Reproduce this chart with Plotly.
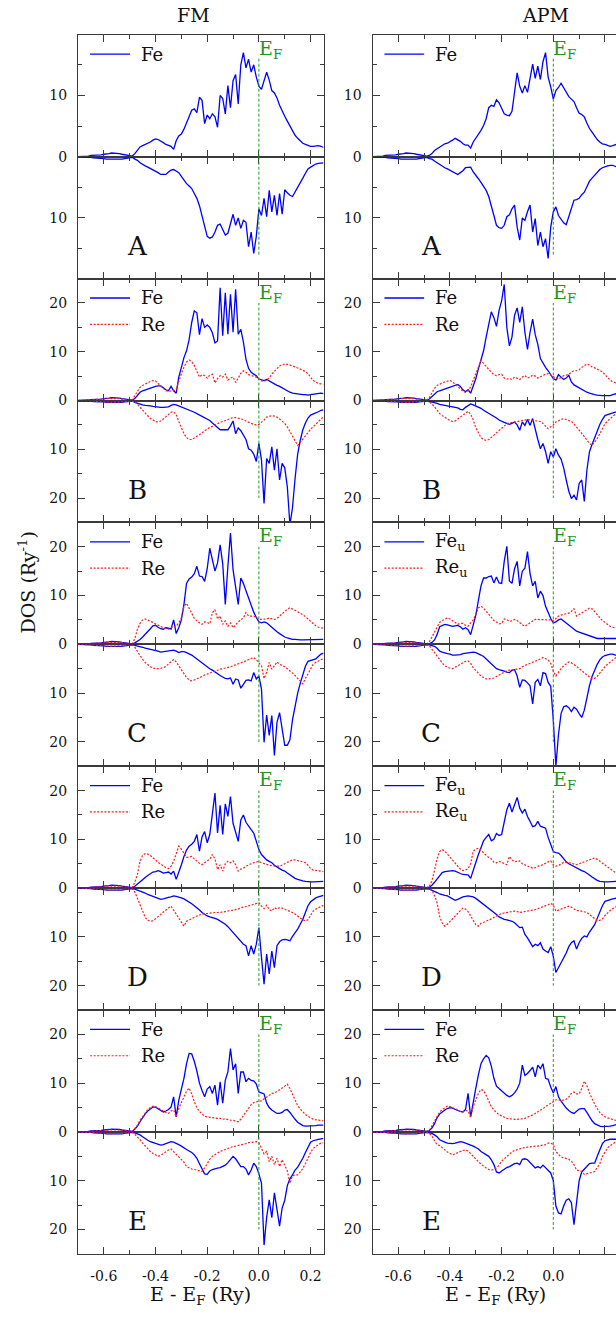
import plotly.graph_objects as go

W, H = 616, 1322

# ---------------------------------------------------------------------------
# Energy grid: every DOS listing starts at E0 and is sampled every DE (Ry).
# The shared low-energy tail covers -0.70 ... -0.49 Ry, the band listings
# below cover -0.48 ... 0.25 Ry (74 values each).
# ---------------------------------------------------------------------------
E0 = -0.70
DE = 0.01

FE_TAIL_UP = [0.0, 0.0, 0.1, 0.1, 0.1, 0.2, 0.2, 0.2, 0.3, 0.3, 0.4,
              0.4, 0.5, 0.6, 0.6, 0.5, 0.5, 0.4, 0.3, 0.2, 0.1, 0.1]
FE_TAIL_DN = [0.0, 0.0, 0.1, 0.1, 0.1, 0.1, 0.2, 0.2, 0.2, 0.3, 0.3,
              0.4, 0.4, 0.5, 0.5, 0.5, 0.4, 0.4, 0.3, 0.2, 0.2, 0.1]
RE_TAIL_UP = [0.0, 0.0, 0.1, 0.1, 0.1, 0.1, 0.2, 0.2, 0.2, 0.3, 0.3,
              0.4, 0.4, 0.5, 0.5, 0.4, 0.4, 0.3, 0.3, 0.2, 0.1, 0.1]
RE_TAIL_DN = [0.0, 0.0, 0.0, 0.1, 0.1, 0.1, 0.1, 0.2, 0.2, 0.2, 0.3,
              0.3, 0.4, 0.4, 0.4, 0.4, 0.3, 0.3, 0.2, 0.2, 0.1, 0.1]

# ----------------------------- panel A -------------------------------------
FM_A_FE_UP = [0.5, 1.0, 1.6, 1.8, 2.0, 2.1, 2.4, 2.7, 2.9, 2.8,
              2.6, 2.3, 2.0, 1.9, 1.7, 1.2, 2.6, 3.4, 3.7, 4.5,
              5.6, 6.5, 7.6, 7.8, 7.2, 9.7, 9.2, 5.4, 6.8, 6.2,
              7.0, 6.5, 4.8, 10.0, 9.5, 7.0, 11.6, 8.0, 12.4, 13.4,
              8.6, 15.0, 17.0, 14.5, 15.9, 13.8, 15.0, 13.0, 11.5, 11.0,
              12.5, 13.8, 12.5, 10.8, 10.4, 9.6, 8.4, 7.4, 6.6, 5.8,
              5.0, 4.2, 3.5, 3.0, 2.6, 2.2, 2.0, 1.8, 1.7, 1.7,
              1.8, 1.8, 1.7, 1.5]
FM_A_FE_DN = [0.4, 0.6, 1.0, 1.3, 1.5, 1.7, 1.9, 2.1, 2.3, 2.6,
              2.9, 2.9, 2.9, 2.5, 2.2, 2.1, 2.3, 2.6, 3.2, 3.9,
              4.4, 4.8, 5.2, 6.0, 6.8, 8.0, 9.8, 11.7, 13.0, 13.3,
              13.1, 12.3, 11.2, 11.0, 11.8, 12.8, 12.5, 11.0, 9.4, 11.2,
              10.0, 11.7, 10.4, 10.7, 14.7, 12.3, 15.8, 13.0, 8.5, 9.6,
              6.8, 9.8, 5.5, 9.0, 6.3, 9.6, 6.0, 9.4, 5.4, 5.9,
              6.3, 6.5, 5.8, 5.0, 4.3, 3.5, 2.7, 2.0, 1.7, 1.4,
              1.2, 1.1, 1.1, 1.0]
APM_A_FE_UP = [0.2, 0.5, 1.0, 1.3, 1.6, 1.9, 2.1, 2.2, 2.4, 2.7,
               3.0, 2.8, 2.5, 2.1, 1.9, 1.9, 1.4, 2.4, 3.0, 3.6,
               4.3, 5.1, 6.2, 8.0, 8.4, 8.2, 9.3, 8.8, 8.0, 7.0,
               6.8, 6.7, 7.4, 10.5, 13.7, 11.5, 10.4, 11.6, 10.5, 12.8,
               15.1, 12.8, 14.8, 12.6, 15.5, 17.0, 13.0, 11.4, 9.4, 10.8,
               11.3, 12.0, 11.3, 10.4, 9.8, 9.4, 9.0, 8.0, 7.1, 6.9,
               6.5, 5.5, 4.6, 4.0, 3.3, 2.8, 2.4, 2.1, 2.0, 1.8,
               1.7, 1.8, 2.0, 2.1]
APM_A_FE_DN = [0.3, 0.4, 0.7, 1.0, 1.3, 1.6, 1.8, 2.0, 2.2, 2.4,
               2.7, 2.9, 2.6, 2.3, 1.8, 1.7, 1.7, 2.5, 3.0, 3.6,
               4.2, 4.8, 5.5, 6.5, 7.9, 9.6, 11.2, 11.6, 11.7, 11.2,
               9.8, 9.5, 8.5, 7.9, 11.5, 13.6, 10.0, 10.4, 9.0, 7.9,
               12.3, 10.1, 14.5, 12.3, 14.7, 13.4, 16.6, 11.5, 9.0, 8.2,
               9.6, 10.2, 10.8, 11.1, 9.8, 8.3, 7.1, 7.0, 6.8, 6.2,
               5.8, 4.9, 4.0, 3.5, 3.0, 2.5, 2.1, 1.8, 1.6, 1.5,
               1.4, 1.4, 1.6, 1.7]

# ----------------------------- panel B -------------------------------------
FM_B_FE_UP = [0.4, 1.0, 1.7, 2.0, 2.2, 2.4, 2.5, 2.7, 2.9, 3.0,
              3.0, 2.6, 2.2, 2.0, 2.9, 2.0, 1.5, 4.8, 7.0, 8.8,
              10.2, 12.5, 16.0, 18.4, 18.0, 13.5, 16.8, 15.0, 15.5, 15.0,
              13.9, 11.8, 12.2, 23.1, 13.3, 22.1, 13.6, 21.8, 14.0, 22.8,
              13.6, 14.6, 12.0, 8.5, 6.6, 5.8, 5.4, 5.1, 4.4, 4.2,
              4.1, 4.3, 4.0, 3.6, 3.3, 3.1, 2.9, 2.6, 2.2, 1.9,
              1.7, 1.5, 1.4, 1.3, 1.2, 1.2, 1.2, 1.1, 1.2, 1.3,
              1.4, 1.5, 1.5, 1.4]
FM_B_RE_UP = [1.0, 2.0, 2.7, 3.1, 3.4, 3.7, 3.9, 4.1, 4.0, 3.5,
              3.0, 2.5, 2.0, 1.9, 1.9, 2.0, 2.3, 4.1, 5.5, 6.8,
              7.9, 8.3, 8.0, 7.2, 6.0, 4.8, 5.3, 5.1, 4.6, 5.2,
              5.4, 3.6, 4.5, 5.1, 4.8, 5.4, 4.2, 4.6, 4.8, 3.7,
              4.6, 5.6, 6.1, 5.8, 5.3, 5.1, 5.0, 4.8, 4.4, 4.0,
              3.9, 4.2, 4.6, 5.4, 6.0, 6.6, 7.1, 7.3, 7.5, 7.4,
              7.3, 7.1, 6.9, 6.7, 6.5, 6.2, 5.9, 5.5, 4.8, 4.1,
              3.8, 3.5, 3.4, 3.3]
FM_B_FE_DN = [0.4, 0.6, 0.8, 0.9, 1.0, 1.0, 1.1, 1.2, 1.3, 1.4,
              1.4, 1.4, 1.4, 1.3, 1.0, 0.8, 0.9, 1.1, 1.3, 1.5,
              1.7, 1.9, 2.1, 2.4, 2.7, 3.0, 3.2, 3.5, 3.8, 4.1,
              4.6, 5.1, 5.6, 6.0, 6.0, 6.0, 6.0, 5.2, 4.2, 6.8,
              5.6, 6.2, 7.0, 8.0, 9.9, 10.2, 11.0, 12.5, 8.8, 12.2,
              21.1, 11.9, 12.9, 9.5, 14.3, 9.9, 16.3, 12.9, 13.8, 17.7,
              25.5, 22.0, 16.0, 11.0, 8.2, 6.0, 4.6, 3.6, 3.0, 2.8,
              2.6, 2.3, 2.0, 1.9]
FM_B_RE_DN = [0.2, 0.8, 1.4, 2.0, 2.7, 3.3, 3.7, 4.0, 4.3, 4.4,
              4.2, 3.8, 3.3, 2.8, 2.4, 2.3, 2.9, 4.3, 5.5, 6.8,
              7.6, 8.0, 8.0, 7.7, 7.4, 7.0, 6.6, 6.2, 5.8, 5.5,
              5.3, 5.0, 4.8, 4.5, 4.3, 4.1, 3.9, 3.7, 3.5, 3.5,
              3.6, 3.7, 3.9, 4.2, 4.5, 4.7, 4.9, 5.0, 4.9, 4.5,
              4.0, 3.4, 3.2, 3.1, 3.2, 3.4, 3.8, 4.2, 4.7, 5.4,
              6.3, 7.3, 8.3, 9.2, 8.6, 7.9, 7.2, 6.5, 5.9, 5.4,
              4.9, 4.3, 3.7, 3.3]
APM_B_FE_UP = [0.3, 0.8, 1.3, 1.8, 2.0, 2.2, 2.4, 2.5, 2.7, 3.0,
               3.2, 3.3, 2.9, 2.2, 1.8, 2.2, 1.5, 3.0, 4.5, 6.5,
               8.3, 10.2, 13.0, 16.0, 18.2, 17.0, 15.2, 18.5, 20.5, 23.8,
               15.0, 11.2, 13.0, 17.5, 19.0, 16.0, 19.2, 14.0, 10.5, 14.0,
               16.7, 13.5, 11.5, 8.6, 7.6, 6.8, 6.1, 5.3, 4.5, 4.2,
               5.3, 4.8, 4.3, 4.6, 5.2, 3.8, 3.2, 2.9, 2.6, 2.2,
               1.9, 1.7, 1.5, 1.3, 1.2, 1.1, 1.0, 1.0, 1.0, 1.0,
               1.0, 1.2, 1.4, 1.5]
APM_B_RE_UP = [0.6, 1.6, 2.5, 3.1, 3.4, 3.6, 3.8, 4.0, 4.1, 3.8,
               3.3, 2.8, 2.2, 1.9, 1.7, 2.0, 2.8, 4.2, 5.8, 7.2,
               8.2, 7.6, 7.0, 6.2, 5.8, 5.3, 5.1, 5.3, 5.4, 4.6,
               4.4, 4.5, 4.3, 4.8, 4.6, 4.3, 4.8, 5.1, 4.6, 4.8,
               5.2, 5.0, 4.6, 4.9, 5.2, 5.4, 5.5, 5.2, 4.8, 4.6,
               4.4, 4.8, 5.1, 5.2, 5.4, 5.8, 6.1, 6.1, 6.3, 6.8,
               7.2, 7.5, 7.3, 6.9, 6.7, 6.4, 6.2, 5.9, 5.3, 4.7,
               4.2, 3.8, 3.6, 3.5]
APM_B_FE_DN = [0.2, 0.3, 0.4, 0.6, 0.8, 0.9, 1.0, 1.1, 1.2, 1.3,
               1.4, 1.5, 1.8, 1.9, 1.4, 1.0, 0.7, 0.9, 1.1, 1.3,
               1.6, 2.0, 2.3, 2.6, 2.9, 3.2, 3.6, 4.0, 4.3, 4.5,
               4.7, 4.9, 4.7, 4.4, 5.0, 6.1, 4.4, 5.1, 3.9, 5.1,
               3.7, 6.2, 8.0, 9.9, 8.8, 10.5, 12.9, 10.5, 11.6, 9.9,
               11.2, 12.0, 13.8, 16.3, 18.6, 20.1, 19.4, 20.4, 17.0, 16.3,
               20.7, 14.3, 10.5, 9.0, 7.6, 6.2, 4.9, 3.9, 3.1, 2.9,
               2.7, 2.6, 2.4, 2.4]
APM_B_RE_DN = [0.3, 0.7, 1.3, 2.0, 2.7, 3.1, 3.5, 3.8, 4.1, 4.3,
               4.2, 3.8, 3.4, 2.9, 2.5, 2.2, 2.8, 4.0, 5.6, 6.6,
               7.6, 8.0, 8.2, 8.0, 7.6, 7.1, 6.6, 6.1, 5.6, 5.2,
               4.8, 4.6, 4.5, 4.4, 4.3, 4.2, 4.1, 4.0, 3.9, 4.0,
               4.1, 4.1, 4.2, 4.3, 4.7, 5.2, 5.8, 5.4, 5.0, 4.4,
               4.1, 3.9, 3.7, 3.9, 4.1, 4.3, 4.8, 5.4, 6.1, 6.8,
               7.4, 8.1, 8.8, 9.2, 8.6, 7.8, 6.8, 5.7, 4.8, 4.2,
               3.7, 3.3, 2.8, 2.6]

# ----------------------------- panel C -------------------------------------
FM_C_FE_UP = [0.3, 0.6, 1.0, 1.5, 2.0, 2.6, 3.2, 3.8, 3.9, 3.5,
              3.2, 3.1, 3.4, 3.3, 3.1, 5.0, 2.2, 3.4, 5.0, 8.2,
              12.5, 13.4, 13.8, 14.5, 16.0, 14.0, 13.9, 12.9, 15.5, 19.7,
              17.3, 15.0, 16.7, 20.4, 16.5, 8.2, 16.0, 22.8, 15.3, 12.2,
              8.2, 13.6, 12.5, 11.0, 9.5, 8.0, 6.6, 5.5, 4.6, 4.4,
              4.6, 4.4, 3.9, 3.5, 3.0, 2.6, 2.2, 1.8, 1.5, 1.3,
              1.1, 1.0, 1.0, 0.9, 0.9, 0.9, 0.9, 0.9, 0.9, 0.9,
              1.0, 1.0, 1.0, 1.0]
FM_C_RE_UP = [1.2, 3.1, 4.3, 5.0, 5.2, 5.0, 4.8, 4.5, 4.2, 3.9,
              3.7, 3.4, 3.2, 3.1, 3.4, 3.7, 3.7, 4.4, 5.4, 7.8,
              8.4, 7.5, 6.4, 5.3, 4.8, 4.4, 4.1, 4.6, 4.5, 4.2,
              6.5, 7.1, 5.2, 5.8, 4.1, 4.8, 3.7, 4.4, 3.4, 4.1,
              4.6, 5.0, 5.4, 6.5, 5.8, 5.8, 5.8, 5.5, 5.1, 5.1,
              5.1, 5.2, 5.4, 5.3, 5.1, 5.3, 5.8, 6.3, 6.8, 7.2,
              7.5, 7.3, 7.0, 6.7, 6.4, 6.1, 5.7, 5.2, 4.7, 4.3,
              3.8, 3.5, 3.4, 3.3]
FM_C_FE_DN = [0.2, 0.3, 0.4, 0.6, 0.8, 0.9, 1.0, 1.1, 1.2, 1.4,
              1.6, 1.5, 1.4, 1.3, 1.2, 1.2, 1.4, 1.7, 1.5, 1.5,
              1.7, 1.9, 2.2, 2.6, 3.0, 3.5, 3.9, 4.3, 4.6, 5.0,
              5.3, 5.7, 6.0, 6.4, 6.7, 7.0, 7.1, 6.9, 8.2, 7.1,
              7.3, 9.0, 8.2, 7.4, 7.3, 7.5, 5.8, 7.1, 6.5, 9.2,
              20.1, 14.5, 18.7, 14.6, 22.8, 16.0, 14.0, 17.0, 20.7, 20.7,
              19.6, 15.5, 12.5, 10.0, 8.0, 6.2, 4.5, 3.5, 3.3, 3.2,
              3.0, 2.5, 2.0, 1.8]
FM_C_RE_DN = [0.6, 1.5, 2.4, 3.1, 3.7, 4.2, 4.6, 4.9, 5.0, 5.0,
              4.9, 4.8, 4.5, 4.0, 3.6, 3.1, 3.6, 4.4, 5.2, 6.1,
              6.8, 7.3, 7.5, 7.3, 7.1, 6.9, 6.6, 6.3, 6.1, 5.8,
              5.6, 5.4, 5.2, 5.1, 5.0, 4.9, 4.8, 4.6, 4.4, 4.2,
              4.0, 3.9, 3.7, 3.4, 3.1, 2.9, 2.7, 3.2, 3.7, 4.4,
              7.0, 5.8, 3.7, 5.1, 4.4, 3.6, 4.1, 4.3, 4.6, 5.0,
              5.4, 5.9, 6.4, 7.0, 7.7, 8.1, 7.0, 6.0, 5.0, 4.1,
              3.7, 3.4, 3.1, 2.9]
APM_C_FE_UP = [0.1, 0.4, 0.9, 2.0, 3.6, 3.9, 4.1, 4.0, 3.9, 3.7,
               3.8, 3.9, 3.6, 3.1, 3.4, 3.0, 2.0, 4.1, 6.0, 9.0,
               12.0, 13.6, 13.6, 13.9, 14.0, 12.6, 13.8, 12.6, 12.5, 17.0,
               20.1, 13.0, 12.5, 15.5, 17.0, 12.0, 15.0, 15.6, 19.0, 14.5,
               12.0, 12.9, 9.5, 10.9, 10.0, 7.8, 6.5, 5.3, 4.4, 4.6,
               5.0, 5.2, 4.8, 4.4, 3.9, 3.5, 3.1, 2.7, 2.5, 2.3,
               2.1, 1.9, 1.7, 1.5, 1.3, 1.2, 1.2, 1.2, 1.2, 1.2,
               1.2, 1.2, 1.2, 1.2]
APM_C_RE_UP = [0.5, 1.5, 2.6, 3.8, 4.5, 4.9, 5.2, 5.4, 5.2, 4.8,
               4.4, 4.1, 4.3, 4.3, 3.9, 3.7, 4.4, 5.0, 6.2, 7.5,
               7.8, 7.4, 6.8, 6.1, 5.5, 4.9, 4.6, 4.2, 4.3, 5.2,
               5.1, 4.7, 4.8, 5.1, 4.9, 4.4, 4.0, 3.7, 4.0, 4.4,
               4.8, 5.1, 5.1, 5.1, 5.0, 5.0, 5.0, 5.0, 4.8, 5.3,
               5.8, 6.0, 6.1, 6.2, 6.4, 6.8, 7.3, 5.8, 6.1, 6.5,
               6.8, 7.0, 7.4, 7.3, 6.7, 6.0, 5.4, 4.9, 4.5, 4.1,
               3.7, 3.5, 3.4, 3.3]
APM_C_FE_DN = [0.1, 0.2, 0.4, 0.8, 1.4, 1.6, 1.8, 1.9, 2.0, 2.2,
               2.2, 2.2, 2.1, 1.9, 1.8, 1.7, 1.6, 1.6, 1.7, 1.9,
               2.2, 2.5, 3.0, 3.4, 3.9, 4.4, 5.0, 5.2, 5.3, 5.5,
               5.7, 5.8, 5.3, 5.2, 6.5, 8.8, 7.3, 7.4, 7.9, 8.5,
               12.2, 7.8, 7.2, 8.5, 5.8, 6.0, 7.8, 8.6, 15.6, 25.0,
               18.5, 14.2, 12.8, 12.6, 13.0, 13.8, 12.9, 13.3, 14.2, 15.0,
               13.5, 10.8, 8.5, 6.6, 5.2, 4.1, 3.2, 2.6, 2.3, 2.1,
               2.0, 2.0, 2.2, 2.2]
APM_C_RE_DN = [0.3, 1.0, 1.8, 2.6, 3.1, 3.8, 4.4, 4.7, 4.9, 5.0,
               4.7, 4.3, 4.0, 3.7, 3.5, 3.4, 3.9, 4.8, 5.4, 6.0,
               6.5, 6.8, 7.1, 7.1, 7.0, 6.9, 6.6, 6.3, 6.0, 5.7,
               5.4, 5.3, 5.2, 5.1, 5.0, 5.0, 4.6, 4.3, 4.1, 3.9,
               3.7, 3.5, 3.2, 3.0, 2.7, 2.9, 3.2, 3.9, 5.5, 6.5,
               5.7, 5.0, 4.4, 4.0, 3.6, 3.8, 4.1, 4.5, 5.0, 5.4,
               5.8, 6.2, 6.7, 7.1, 7.0, 6.6, 5.9, 5.2, 4.6, 4.1,
               3.6, 3.2, 2.8, 2.6]

# ----------------------------- panel D -------------------------------------
FM_D_FE_UP = [0.4, 0.9, 1.4, 1.8, 2.2, 2.6, 3.0, 3.3, 3.4, 3.6,
              3.4, 3.1, 3.2, 3.3, 2.9, 3.5, 1.8, 3.2, 4.8, 6.5,
              7.8, 8.6, 9.0, 9.6, 11.0, 7.6, 10.5, 11.6, 9.3, 11.0,
              15.4, 19.5, 11.3, 17.0, 11.0, 17.3, 14.7, 18.8, 13.3, 11.6,
              9.6, 14.0, 15.0, 13.5, 12.6, 12.0, 11.3, 9.8, 7.9, 6.9,
              6.3, 5.8, 5.5, 5.2, 4.7, 4.3, 4.0, 3.7, 3.5, 3.1,
              2.7, 2.3, 2.0, 1.8, 1.6, 1.5, 1.4, 1.3, 1.3, 1.3,
              1.3, 1.4, 1.4, 1.4]
FM_D_RE_UP = [1.2, 2.8, 5.5, 6.7, 7.1, 7.0, 6.7, 6.3, 5.8, 5.3,
              4.9, 4.5, 4.2, 4.0, 4.5, 5.5, 7.2, 8.6, 8.0, 7.2,
              6.3, 6.4, 6.5, 6.0, 5.5, 5.1, 4.8, 5.3, 5.6, 5.9,
              6.9, 6.0, 3.8, 4.8, 3.5, 5.0, 5.5, 5.2, 5.6, 4.8,
              3.5, 3.9, 4.1, 4.5, 4.8, 5.0, 5.2, 5.4, 5.5, 5.2,
              5.0, 4.8, 4.7, 4.6, 4.5, 4.5, 4.5, 4.7, 5.0, 5.3,
              5.6, 5.8, 5.8, 5.6, 5.5, 5.4, 5.2, 4.7, 4.0, 3.7,
              3.6, 3.5, 3.5, 3.4]
FM_D_FE_DN = [0.2, 0.4, 0.5, 0.8, 1.0, 1.3, 1.5, 1.6, 1.8, 2.0,
              2.3, 2.2, 2.0, 1.9, 1.8, 1.6, 1.7, 1.8, 2.0, 2.2,
              2.5, 2.8, 3.2, 3.6, 4.0, 4.5, 5.0, 5.4, 5.7, 5.9,
              6.0, 6.2, 6.4, 6.7, 7.0, 7.4, 7.9, 8.5, 9.2, 9.8,
              10.3, 10.8, 11.5, 11.8, 13.9, 11.8, 13.5, 11.5, 8.1, 14.2,
              19.7, 13.5, 17.6, 12.9, 16.3, 11.8, 11.0, 10.6, 10.5, 10.6,
              10.8, 9.9, 9.2, 8.4, 7.4, 6.4, 5.0, 3.6, 2.8, 2.3,
              2.0, 1.8, 1.6, 1.5]
FM_D_RE_DN = [0.8, 2.2, 3.6, 5.0, 6.0, 6.6, 6.8, 6.7, 6.3, 5.9,
              5.4, 4.9, 4.5, 4.1, 3.7, 4.5, 5.4, 6.2, 6.9, 7.8,
              6.8, 6.5, 6.3, 6.0, 5.7, 5.5, 5.3, 5.2, 5.2, 5.1,
              5.0, 5.0, 5.0, 5.0, 4.9, 4.8, 4.7, 4.7, 4.6, 4.5,
              4.3, 4.0, 3.9, 3.8, 3.7, 3.5, 3.3, 3.1, 3.0, 3.7,
              4.2, 3.5, 4.4, 4.7, 4.0, 4.3, 4.0, 4.1, 4.3, 4.5,
              4.7, 5.0, 5.3, 5.7, 6.1, 6.5, 6.7, 6.5, 5.6, 4.7,
              4.3, 4.0, 3.7, 3.5]
APM_D_FE_UP = [0.2, 0.6, 1.2, 1.9, 2.5, 3.2, 3.4, 3.5, 3.5, 3.6,
               3.5, 3.2, 3.0, 2.8, 2.8, 2.7, 2.0, 3.8, 5.3, 6.9,
               8.3, 9.7, 10.4, 11.0, 9.7, 10.0, 11.2, 10.8, 11.0, 13.8,
               16.1, 17.4, 15.6, 17.1, 18.6, 16.4, 15.4, 16.2, 14.7, 13.7,
               12.6, 12.8, 13.7, 12.7, 12.5, 12.3, 10.4, 8.8, 7.5, 7.3,
               7.2, 6.7, 6.0, 5.4, 5.0, 4.7, 4.4, 4.1, 3.9, 3.6,
               3.4, 3.1, 2.7, 2.3, 1.9, 1.6, 1.4, 1.3, 1.3, 1.3,
               1.3, 1.3, 1.4, 1.4]
APM_D_RE_UP = [0.3, 1.5, 3.6, 6.0, 7.5, 7.9, 7.6, 7.0, 6.4, 5.6,
               5.0, 4.4, 3.9, 3.6, 3.7, 4.0, 5.0, 7.6, 8.0, 8.2,
               7.8, 7.2, 6.7, 6.3, 6.0, 5.3, 5.2, 5.5, 5.3, 5.0,
               4.8, 6.5, 5.8, 5.4, 5.5, 5.6, 5.0, 4.8, 4.5, 4.4,
               4.1, 4.2, 4.5, 4.6, 4.8, 5.1, 5.4, 5.6, 4.8, 4.5,
               4.7, 4.9, 5.3, 5.3, 5.2, 5.1, 4.9, 4.8, 5.0, 5.2,
               5.4, 5.6, 5.9, 6.1, 6.2, 5.9, 5.5, 5.1, 4.7, 4.3,
               3.9, 3.6, 3.2, 3.0]
APM_D_FE_DN = [0.2, 0.4, 0.6, 0.9, 1.2, 1.4, 1.5, 1.6, 1.9, 2.2,
               2.5, 2.3, 2.0, 1.8, 1.7, 1.6, 1.7, 1.8, 2.1, 2.5,
               2.9, 3.3, 3.8, 4.2, 4.6, 5.0, 5.4, 5.9, 6.2, 6.4,
               6.5, 6.6, 6.8, 7.1, 7.6, 8.1, 8.0, 9.5, 10.2, 11.0,
               12.0, 11.5, 11.8, 11.2, 12.5, 12.9, 13.2, 12.0, 14.0, 17.3,
               16.3, 15.6, 14.6, 13.3, 12.0, 11.2, 10.8, 12.5, 11.2, 10.3,
               9.8, 10.0, 9.0, 8.3, 7.5, 6.2, 4.8, 3.6, 2.7, 2.5,
               2.3, 2.2, 2.1, 2.0]
APM_D_RE_DN = [0.2, 0.4, 1.5, 3.0, 5.8, 7.2, 7.8, 7.4, 6.8, 6.2,
               5.7, 5.1, 4.6, 4.1, 4.3, 4.8, 5.7, 6.5, 7.5, 7.8,
               7.2, 7.0, 6.8, 6.5, 6.3, 6.0, 5.7, 5.4, 5.2, 5.1,
               5.0, 4.9, 4.8, 4.7, 4.8, 5.0, 4.9, 4.8, 4.7, 4.7,
               4.6, 4.4, 4.2, 4.0, 3.9, 3.7, 3.4, 3.1, 3.5, 4.7,
               4.5, 4.3, 4.0, 3.8, 3.7, 3.9, 4.2, 4.6, 4.6, 4.7,
               4.8, 5.0, 5.4, 5.8, 6.3, 6.7, 6.6, 6.3, 5.6, 5.0,
               4.6, 4.2, 3.8, 3.6]

# ----------------------------- panel E -------------------------------------
FM_E_FE_UP = [0.6, 1.2, 2.1, 3.0, 3.7, 4.3, 4.8, 5.1, 5.1, 4.8,
              4.5, 4.1, 4.3, 4.6, 5.1, 7.2, 3.1, 6.5, 8.8, 11.0,
              14.0, 16.1, 16.0, 14.5, 12.5, 10.0, 8.5, 7.2, 8.8, 9.3,
              7.9, 9.6, 5.5, 10.3, 5.9, 10.6, 12.3, 17.1, 12.7, 14.0,
              7.9, 12.3, 12.3, 10.3, 11.0, 10.6, 10.5, 9.8, 8.2, 8.0,
              7.8, 5.9, 5.0, 4.5, 4.1, 3.8, 3.8, 4.0, 4.5, 4.6,
              4.0, 3.2, 2.6, 2.0, 1.6, 1.3, 1.2, 1.2, 1.2, 1.2,
              1.3, 1.4, 1.4, 1.4]
FM_E_RE_UP = [0.7, 1.4, 2.4, 3.2, 4.0, 4.6, 5.0, 5.3, 5.2, 4.9,
              4.6, 4.2, 4.0, 3.8, 4.3, 4.5, 3.1, 4.8, 6.0, 7.3,
              8.4, 9.0, 7.8, 6.2, 5.0, 4.2, 3.6, 3.2, 3.1, 3.0,
              3.0, 2.9, 2.8, 2.8, 2.6, 2.7, 2.5, 2.4, 2.4, 2.2,
              2.1, 2.6, 3.4, 4.2, 5.0, 5.6, 6.0, 6.2, 6.3, 6.4,
              6.8, 7.2, 7.6, 7.9, 8.0, 8.3, 8.6, 9.0, 9.4, 9.8,
              8.9, 7.7, 6.4, 5.4, 4.7, 4.1, 3.6, 3.2, 2.9, 2.6,
              2.5, 2.4, 2.4, 2.3]
FM_E_FE_DN = [0.2, 0.4, 0.6, 1.0, 1.4, 1.7, 2.0, 2.2, 2.4, 2.6,
              2.7, 2.6, 2.4, 2.2, 2.0, 2.1, 2.3, 2.6, 2.9, 3.3,
              3.6, 3.9, 4.2, 4.7, 5.4, 6.5, 7.7, 8.6, 8.7, 8.0,
              7.7, 7.5, 7.4, 7.3, 7.1, 6.8, 6.3, 5.7, 5.0, 5.5,
              6.3, 7.1, 7.1, 7.6, 8.8, 7.8, 6.4, 7.1, 8.6, 10.5,
              23.2, 17.5, 13.9, 17.6, 12.5, 16.0, 19.3, 15.6, 14.0, 11.0,
              9.6, 8.8, 7.8, 7.2, 6.4, 5.4, 4.2, 3.0, 2.1, 1.8,
              1.6, 1.5, 1.4, 1.3]
FM_E_RE_DN = [0.5, 1.0, 1.6, 2.3, 2.9, 3.5, 4.0, 4.4, 4.7, 5.0,
              4.8, 4.4, 4.0, 3.7, 3.5, 4.0, 4.7, 5.2, 5.6, 6.2,
              7.1, 7.4, 7.6, 7.7, 7.8, 8.0, 8.1, 7.4, 6.4, 5.6,
              5.0, 4.6, 4.3, 4.0, 3.8, 3.5, 3.3, 3.2, 3.0, 2.9,
              2.8, 2.7, 2.5, 2.4, 2.2, 2.1, 2.0, 2.0, 2.2, 3.3,
              4.5, 4.0, 6.1, 5.0, 6.7, 5.4, 7.1, 5.7, 6.7, 8.0,
              10.5, 9.0, 8.8, 8.8, 8.2, 7.5, 6.5, 5.2, 4.2, 3.4,
              2.9, 2.6, 2.3, 2.2]
APM_E_FE_UP = [0.3, 0.8, 1.7, 2.9, 3.7, 4.2, 4.5, 4.8, 5.0, 4.9,
               4.6, 4.4, 4.2, 4.1, 4.6, 7.9, 3.1, 6.5, 9.0, 11.7,
               14.0, 15.0, 15.7, 15.2, 13.5, 11.0, 9.4, 8.9, 8.4, 7.9,
               7.5, 7.2, 7.5, 8.0, 8.8, 10.0, 13.7, 11.6, 12.0, 12.6,
               13.3, 11.3, 13.7, 13.0, 14.0, 11.0, 10.8, 9.2, 8.0, 9.3,
               7.2, 6.3, 5.5, 4.9, 4.4, 4.0, 3.8, 4.2, 4.7, 4.8,
               4.8, 4.0, 3.0, 2.3, 1.7, 1.4, 1.2, 1.1, 1.1, 1.1,
               1.2, 1.3, 1.5, 1.6]
APM_E_RE_UP = [0.3, 1.2, 2.2, 3.3, 4.1, 4.6, 5.0, 5.3, 5.2, 5.0,
               4.7, 4.5, 4.2, 4.1, 4.4, 4.3, 3.0, 5.2, 6.6, 7.9,
               8.7, 8.5, 7.5, 6.2, 5.2, 4.5, 4.0, 3.5, 3.3, 3.0,
               2.8, 2.7, 2.6, 2.6, 2.6, 2.6, 2.7, 2.8, 3.0, 3.2,
               3.5, 3.8, 4.1, 4.5, 4.8, 5.2, 5.5, 5.8, 6.2, 6.6,
               6.6, 6.4, 6.5, 6.7, 7.2, 7.9, 8.2, 7.8, 7.8, 8.9,
               10.4, 9.5, 8.0, 6.8, 5.7, 4.8, 4.0, 3.5, 3.1, 2.9,
               2.7, 2.6, 2.4, 2.4]
APM_E_FE_DN = [0.2, 0.3, 0.6, 1.0, 1.6, 1.9, 2.1, 2.3, 2.4, 2.4,
               2.3, 2.2, 2.0, 2.1, 2.3, 2.4, 2.6, 2.9, 3.2, 3.5,
               4.0, 4.3, 4.6, 5.0, 5.7, 6.7, 8.2, 8.4, 8.0, 7.6,
               7.3, 7.1, 6.8, 6.5, 6.4, 6.7, 5.6, 5.5, 5.7, 6.3,
               7.0, 7.4, 7.1, 7.4, 6.8, 7.4, 7.9, 8.4, 10.0, 15.2,
               16.6, 16.8, 15.2, 14.0, 13.7, 14.5, 19.0, 15.0, 10.0, 8.2,
               7.6, 7.1, 6.5, 6.4, 6.4, 5.0, 3.6, 2.4, 1.8, 1.6,
               1.5, 1.5, 1.5, 1.5]
APM_E_RE_DN = [0.3, 0.8, 1.8, 2.6, 2.8, 3.3, 3.8, 4.1, 4.4, 4.7,
               4.5, 4.2, 4.0, 3.8, 3.7, 3.9, 4.5, 5.0, 5.6, 6.1,
               6.6, 7.1, 7.4, 7.7, 7.8, 7.7, 7.4, 6.8, 6.0, 5.5,
               5.0, 4.4, 4.1, 3.8, 3.6, 3.5, 3.3, 3.2, 3.1, 3.0,
               3.0, 2.9, 2.9, 2.8, 2.7, 2.6, 2.3, 2.3, 2.6, 4.0,
               4.6, 5.1, 5.3, 5.5, 5.6, 6.0, 6.7, 7.8, 7.9, 8.1,
               8.7, 8.6, 8.4, 8.3, 8.1, 7.4, 6.5, 5.0, 4.0, 3.3,
               2.8, 2.4, 2.1, 2.0]

# ---------------------------------------------------------------------------
ROWS = ["A", "B", "C", "D", "E"]
COLS = ["FM", "APM"]
Y_MAX = {"A": 19.9, "B": 25, "C": 25, "D": 25, "E": 25}
EF_TOP = {"A": 16, "B": 20, "C": 20, "D": 20, "E": 20}
X_MAJOR = [-0.6, -0.4, -0.2, 0.0, 0.2]
X_MAJOR_TEXT = ["-0.6", "-0.4", "-0.2", "0.0", "0.2"]
X_MINOR = [-0.5, -0.3, -0.1, 0.1]
Y_MAJOR_UP, Y_MAJOR_DN = [0, 10, 20], [10, 20]
Y_MINOR = [5, 15]

SERIES = {
    ("FM", "A"): (FM_A_FE_UP, FM_A_FE_DN, None, None),
    ("APM", "A"): (APM_A_FE_UP, APM_A_FE_DN, None, None),
    ("FM", "B"): (FM_B_FE_UP, FM_B_FE_DN, FM_B_RE_UP, FM_B_RE_DN),
    ("APM", "B"): (APM_B_FE_UP, APM_B_FE_DN, APM_B_RE_UP, APM_B_RE_DN),
    ("FM", "C"): (FM_C_FE_UP, FM_C_FE_DN, FM_C_RE_UP, FM_C_RE_DN),
    ("APM", "C"): (APM_C_FE_UP, APM_C_FE_DN, APM_C_RE_UP, APM_C_RE_DN),
    ("FM", "D"): (FM_D_FE_UP, FM_D_FE_DN, FM_D_RE_UP, FM_D_RE_DN),
    ("APM", "D"): (APM_D_FE_UP, APM_D_FE_DN, APM_D_RE_UP, APM_D_RE_DN),
    ("FM", "E"): (FM_E_FE_UP, FM_E_FE_DN, FM_E_RE_UP, FM_E_RE_DN),
    ("APM", "E"): (APM_E_FE_UP, APM_E_FE_DN, APM_E_RE_UP, APM_E_RE_DN),
}
NAMES_U = ("Fe<sub>u</sub>", "Re<sub>u</sub>")
LEGEND_NAMES = {("APM", "C"): NAMES_U, ("APM", "D"): NAMES_U}

# ------------------------------ geometry (px) ------------------------------
ROW_TOP, ROW_H = 35.0, 245.3
COL_PX = {"FM": (78.0, 323.5), "APM": (372.5, 616.0)}
X_MAX = {"FM": 0.25, "APM": 0.2427}

FONT = "DejaVu Serif"
AX = "#3a3a3a"
BLUE = "#0000ff"
RED = "#ff1a1a"
GREEN = "#22a022"
RED_DOT = "2px,1.6px"
MAJOR_LEN, MINOR_LEN = 7, 4


def energies(n):
    return [round(E0 + DE * i, 2) for i in range(n)]


def full(tail, band):
    assert len(band) == 74, len(band)
    return tail + band


def axis_ids(n):
    s = "" if n == 1 else str(n)
    return "x" + s, "y" + s, "xaxis" + s, "yaxis" + s


fig = go.Figure()
layout = {}
shapes = []
annots = []
n = 0
for r, row in enumerate(ROWS):
    top = ROW_TOP + r * ROW_H
    mid = top + ROW_H / 2
    bot = top + ROW_H
    for col in COLS:
        px0, px1 = COL_PX[col]
        xdom = [px0 / W, min(px1 / W, 1.0)]
        fe_up, fe_dn, re_up, re_dn = SERIES[(col, row)]
        names = LEGEND_NAMES.get((col, row), ("Fe", "Re"))
        for half in ("up", "dn"):
            n += 1
            xa, ya, xkey, ykey = axis_ids(n)
            if half == "up":
                ydom = [1 - mid / H, 1 - top / H]
                yrange = [0, Y_MAX[row]]
                ymajor = Y_MAJOR_UP
                fe = full(FE_TAIL_UP, fe_up)
                re_ = full(RE_TAIL_UP, re_up) if re_up else None
            else:
                ydom = [1 - bot / H, 1 - mid / H]
                yrange = [Y_MAX[row], 0]
                ymajor = Y_MAJOR_DN
                fe = full(FE_TAIL_DN, fe_dn)
                re_ = full(RE_TAIL_DN, re_dn) if re_dn else None
            bottom_row = (row == ROWS[-1] and half == "dn")
            layout[xkey] = dict(
                domain=xdom, anchor=ya, range=[E0, X_MAX[col]],
                tickvals=X_MAJOR, ticktext=X_MAJOR_TEXT, showticklabels=bottom_row,
                ticks="inside", ticklen=MAJOR_LEN, tickwidth=1, tickcolor=AX,
                minor=dict(tickvals=X_MINOR, ticks="inside", ticklen=MINOR_LEN,
                           tickwidth=1, tickcolor=AX, showgrid=False),
                showline=True, linecolor=AX, linewidth=1, mirror="ticks",
                showgrid=False, zeroline=False, ticklabelstandoff=9,
                tickfont=dict(family=FONT, size=14, color="#111"))
            layout[ykey] = dict(
                domain=ydom, anchor=xa, range=yrange,
                tickvals=ymajor, ticktext=[str(v) for v in ymajor],
                ticks="inside", ticklen=MAJOR_LEN, tickwidth=1, tickcolor=AX,
                minor=dict(tickvals=Y_MINOR, ticks="inside", ticklen=MINOR_LEN,
                           tickwidth=1, tickcolor=AX, showgrid=False),
                showline=True, linecolor=AX, linewidth=1,
                mirror="ticks" if col == "FM" else False,
                showgrid=False, zeroline=False, ticklabelstandoff=7,
                tickfont=dict(family=FONT, size=14, color="#111"))

            fig.add_trace(go.Scatter(
                x=energies(len(fe)), y=fe, xaxis=xa, yaxis=ya, mode="lines",
                line=dict(color=BLUE, width=1.3), showlegend=False,
                hoverinfo="skip"))
            if re_ is not None:
                fig.add_trace(go.Scatter(
                    x=energies(len(re_)), y=re_, xaxis=xa, yaxis=ya, mode="lines",
                    line=dict(color=RED, width=1.2, dash=RED_DOT), showlegend=False,
                    hoverinfo="skip"))

            # Fermi level marker
            shapes.append(dict(type="line", xref=xa, yref=ya, x0=0, x1=0,
                               y0=0, y1=EF_TOP[row],
                               line=dict(color=GREEN, width=1, dash="3px,2px")))

            if half == "up":
                annots.append(dict(
                    xref=xa, yref=f"{ya} domain", x=0, y=1, xanchor="left",
                    yanchor="top", xshift=-2, yshift=0, showarrow=False,
                    text="E<sub>F</sub>",
                    font=dict(family=FONT, size=19, color="#1f931f")))
                # legend block
                entries = [(names[0], BLUE, "solid")]
                if re_ is not None:
                    entries.append((names[1], RED, RED_DOT))
                for k, (label, colr, dash) in enumerate(entries):
                    yfrac = 0.841 - k * 0.216
                    shapes.append(dict(
                        type="line", xref=f"{xa} domain", yref=f"{ya} domain",
                        x0=0.049, x1=0.212, y0=yfrac, y1=yfrac,
                        line=dict(color=colr, width=1.3 if dash == "solid" else 1.2,
                                  dash=dash)))
                    annots.append(dict(
                        xref=f"{xa} domain", yref=f"{ya} domain", x=0.250, y=yfrac,
                        xanchor="left", yanchor="middle", showarrow=False,
                        text=label, font=dict(family=FONT, size=18, color="#111")))
            else:
                annots.append(dict(
                    xref=f"{xa} domain", yref=f"{ya} domain", x=0.242, y=0.27,
                    xanchor="center", yanchor="middle", showarrow=False,
                    text=row, font=dict(family=FONT, size=26, color="#111")))

# column titles, axis titles
annots += [
    dict(xref="paper", yref="paper", x=193.7 / W, y=1 - 15 / H, showarrow=False,
         text="FM", font=dict(family=FONT, size=19, color="#111"),
         xanchor="center", yanchor="middle"),
    dict(xref="paper", yref="paper", x=545.7 / W, y=1 - 15 / H, showarrow=False,
         text="APM", font=dict(family=FONT, size=19, color="#111"),
         xanchor="center", yanchor="middle"),
    dict(xref="paper", yref="paper", x=200 / W, y=1 - 1290 / H, showarrow=False,
         text="E - E<sub>F</sub> (Ry)", font=dict(family=FONT, size=19, color="#111"),
         xanchor="center", yanchor="top", borderpad=0),
    dict(xref="paper", yref="paper", x=495 / W, y=1 - 1290 / H, showarrow=False,
         text="E - E<sub>F</sub> (Ry)", font=dict(family=FONT, size=19, color="#111"),
         xanchor="center", yanchor="top", borderpad=0),
    dict(xref="paper", yref="paper", x=27 / W, y=1 - 586 / H, showarrow=False,
         text="DOS (Ry<sup>-1</sup>)", textangle=-90,
         font=dict(family=FONT, size=19, color="#111"),
         xanchor="center", yanchor="middle"),
]

fig.update_layout(
    width=W, height=H, margin=dict(l=0, r=0, t=0, b=0),
    paper_bgcolor="white", plot_bgcolor="white",
    showlegend=False, shapes=shapes, annotations=annots,
    font=dict(family=FONT, size=14, color="#111"),
    **layout)

fig.write_html("out.html", config={"displayModeBar": False})
